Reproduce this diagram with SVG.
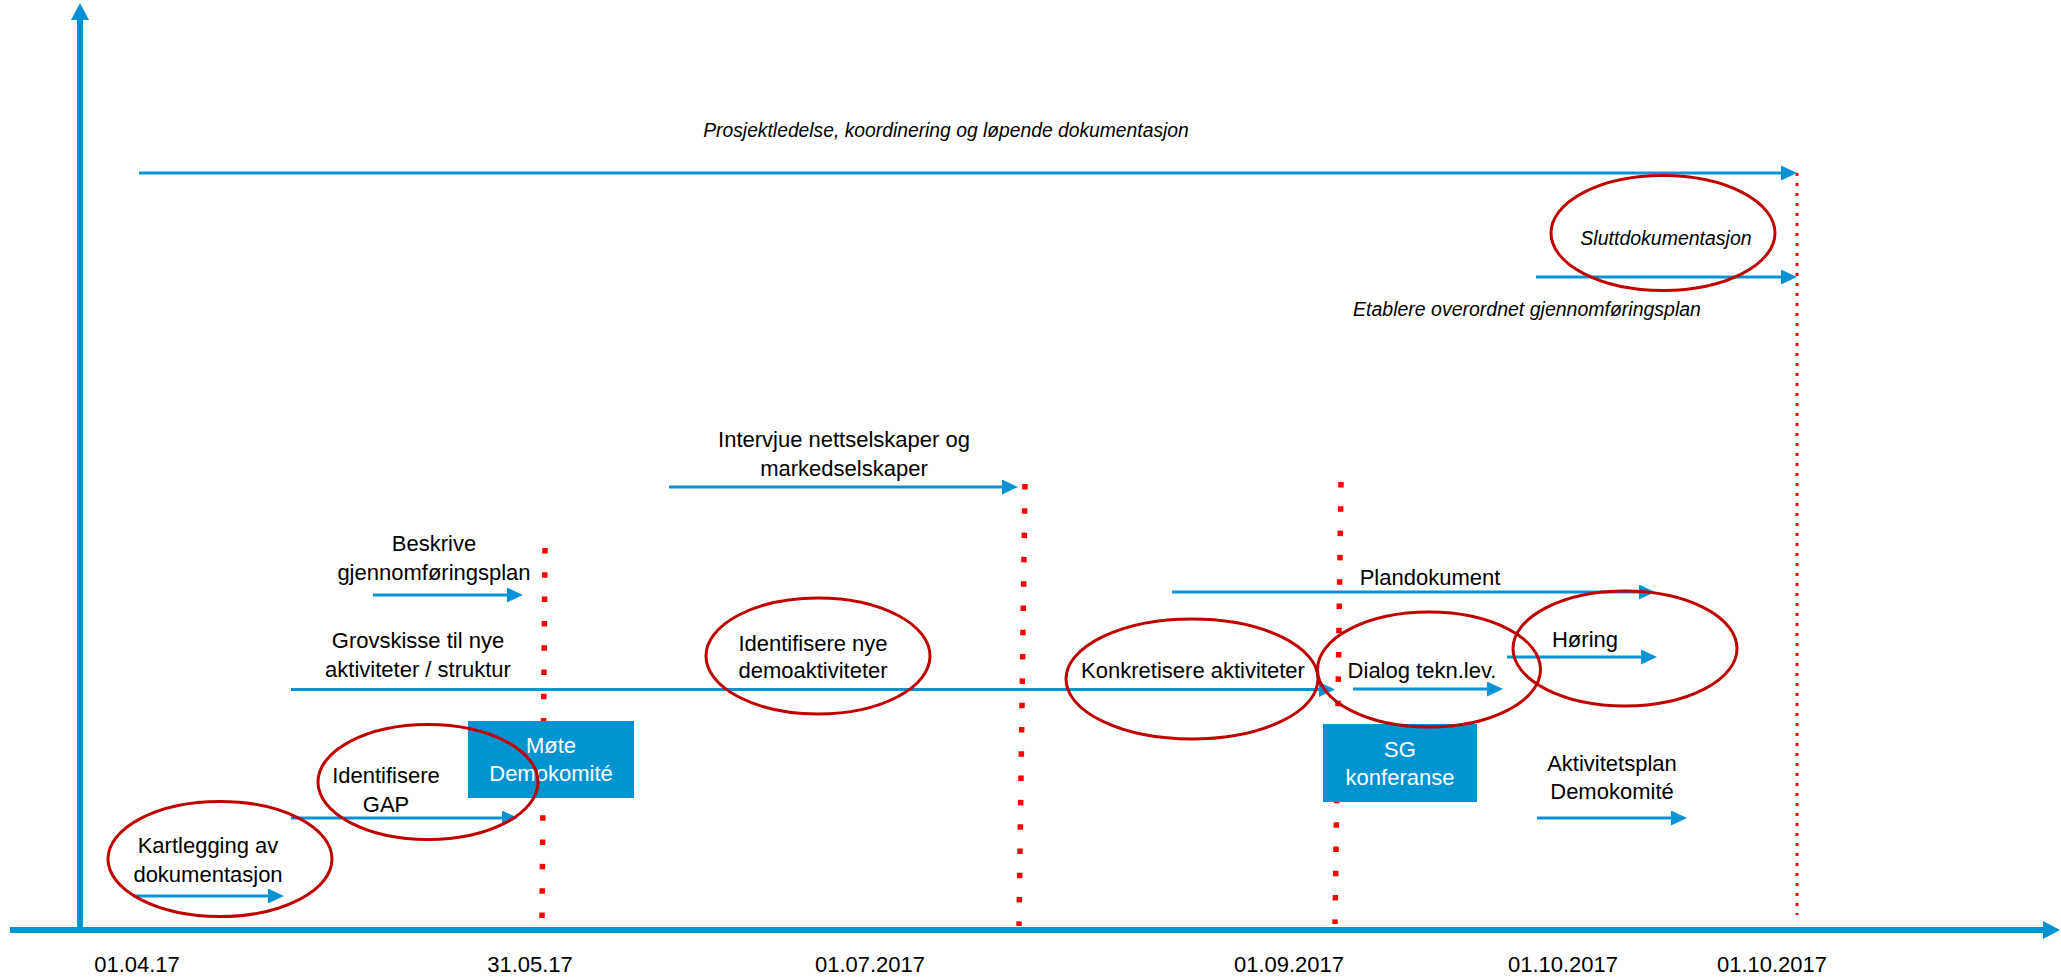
<svg xmlns="http://www.w3.org/2000/svg" width="2061" height="978" viewBox="0 0 2061 978">
<style>
.t{font-family:"Liberation Sans",Arial,sans-serif;font-size:22px;fill:#000;text-anchor:middle}
.ti{font-family:"Liberation Sans",Arial,sans-serif;font-size:19.5px;font-style:italic;fill:#000;text-anchor:middle}
.tw{font-family:"Liberation Sans",Arial,sans-serif;font-size:22px;fill:#fff;text-anchor:middle}
.arr{stroke:#0A93D4;stroke-width:3;fill:none;marker-end:url(#ah)}
.axis{stroke:#0092D2;stroke-width:6;fill:none;marker-end:url(#axh)}
.dot{stroke:#FF0000;stroke-width:5.5;stroke-dasharray:5.5 18.8;fill:none}
.dotthin{stroke:#FF0000;stroke-width:3;stroke-dasharray:3 7;fill:none}
.ell{fill:none;stroke:#C00000;stroke-width:3}
.box{fill:#0093D1}
</style>
<defs>
<marker id="ah" markerUnits="userSpaceOnUse" markerWidth="17" markerHeight="16" refX="6" refY="7.5" orient="auto">
<path d="M0,0 L16,7.5 L0,15 z" fill="#0A93D4"/>
</marker>
<marker id="axh" markerUnits="userSpaceOnUse" markerWidth="18" markerHeight="19" refX="5" refY="9" orient="auto">
<path d="M0,0 L17,9 L0,18 z" fill="#0092D2"/>
</marker>
</defs>
<rect width="2061" height="978" fill="#fff"/>

<g id="axes">
<line class="axis" x1="80" y1="933" x2="80" y2="15"/>
<line class="axis" x1="10" y1="930" x2="2048" y2="930"/>
</g>

<g id="milestones">
<line class="dot" x1="545" y1="548" x2="542" y2="918"/>
<line class="dot" x1="1025" y1="484" x2="1019" y2="926"/>
<line class="dot" x1="1341" y1="482" x2="1335" y2="924"/>
<line class="dotthin" x1="1797" y1="173" x2="1797" y2="915"/>
</g>

<g id="connectors">
<line class="arr" x1="139" y1="173" x2="1787" y2="173"/>
<line class="arr" x1="1536" y1="277" x2="1787" y2="277"/>
<line class="arr" x1="669" y1="487" x2="1008" y2="487"/>
<line class="arr" x1="373" y1="595" x2="513" y2="595"/>
<line class="arr" x1="291" y1="689.5" x2="1325" y2="689.5"/>
<line class="arr" x1="291" y1="818" x2="508" y2="818"/>
<line class="arr" x1="133" y1="896" x2="274" y2="896"/>
<line class="arr" x1="1172" y1="592" x2="1645" y2="592"/>
<line class="arr" x1="1353" y1="689" x2="1493" y2="689"/>
<line class="arr" x1="1507" y1="657" x2="1647" y2="657"/>
<line class="arr" x1="1537" y1="818" x2="1677" y2="818"/>
</g>

<g id="prosjektledelse">
<text class="ti" x="946" y="137" style="font-size:19.3px">Prosjektledelse, koordinering og løpende dokumentasjon</text>
</g>

<g id="sluttdokumentasjon">
<ellipse class="ell" cx="1663" cy="233" rx="112" ry="57.5"/>
<text class="ti" x="1666" y="245">Sluttdokumentasjon</text>
</g>

<g id="etablere">
<text class="ti" x="1527" y="316">Etablere overordnet gjennomføringsplan</text>
</g>

<g id="intervjue">
<text class="t" x="844" y="447">Intervjue nettselskaper og</text>
<text class="t" x="844" y="476">markedselskaper</text>
</g>

<g id="beskrive">
<text class="t" x="434" y="551">Beskrive</text>
<text class="t" x="434" y="580">gjennomføringsplan</text>
</g>

<g id="grovskisse">
<text class="t" x="418" y="648">Grovskisse til nye</text>
<text class="t" x="418" y="677">aktiviteter / struktur</text>
</g>

<g id="identifisere-nye">
<ellipse class="ell" cx="818" cy="656" rx="112" ry="58"/>
<text class="t" x="813" y="651">Identifisere nye</text>
<text class="t" x="813" y="678">demoaktiviteter</text>
</g>

<g id="mote-demokomite">
<rect class="box" x="468" y="721" width="166" height="77"/>
<text class="tw" x="551" y="753">Møte</text>
<text class="tw" x="551" y="781">Demokomité</text>
</g>

<g id="identifisere-gap">
<ellipse class="ell" cx="428" cy="782" rx="110" ry="57.5"/>
<text class="t" x="386" y="783">Identifisere</text>
<text class="t" x="386" y="812">GAP</text>
</g>

<g id="kartlegging">
<ellipse class="ell" cx="220" cy="859" rx="112" ry="57.5"/>
<text class="t" x="208" y="853">Kartlegging av</text>
<text class="t" x="208" y="882">dokumentasjon</text>
</g>

<g id="konkretisere">
<ellipse class="ell" cx="1192" cy="679" rx="126" ry="60"/>
<text class="t" x="1193" y="678">Konkretisere aktiviteter</text>
</g>

<g id="sg-konferanse">
<rect class="box" x="1323" y="724" width="154" height="78"/>
<text class="tw" x="1400" y="757">SG</text>
<text class="tw" x="1400" y="785">konferanse</text>
</g>

<g id="dialog">
<ellipse class="ell" cx="1429" cy="669.5" rx="111.5" ry="57.5"/>
<text class="t" x="1422" y="678">Dialog tekn.lev.</text>
</g>

<g id="plandokument">
<text class="t" x="1430" y="585">Plandokument</text>
</g>

<g id="horing">
<ellipse class="ell" cx="1625" cy="648.5" rx="112" ry="57.5"/>
<text class="t" x="1585" y="647">Høring</text>
</g>

<g id="aktivitetsplan">
<text class="t" x="1612" y="771">Aktivitetsplan</text>
<text class="t" x="1612" y="799">Demokomité</text>
</g>

<g id="dates">
<text class="t" x="137" y="972">01.04.17</text>
<text class="t" x="530" y="972">31.05.17</text>
<text class="t" x="870" y="972">01.07.2017</text>
<text class="t" x="1289" y="972">01.09.2017</text>
<text class="t" x="1563" y="972">01.10.2017</text>
<text class="t" x="1772" y="972">01.10.2017</text>
</g>
</svg>
